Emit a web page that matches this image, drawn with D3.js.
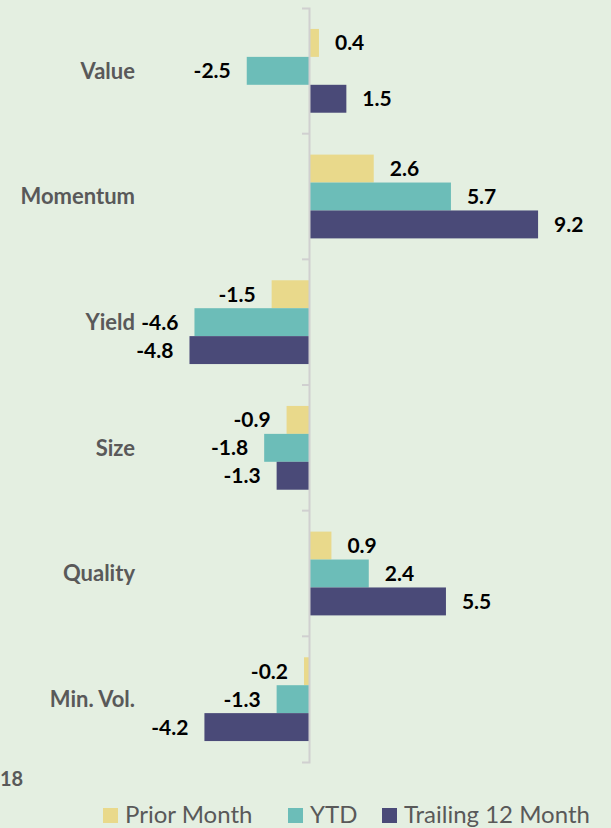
<!DOCTYPE html>
<html>
<meta charset="utf-8">
<style>
body { margin: 0; background: #e4efe1; }
svg { display: block; }
text { font-family: Lato, "Open Sans", sans-serif; }
</style>
<body>
<script src="https://d3js.org/d3.v7.min.js"></script>
<script>
var categories = ["Value", "Momentum", "Yield", "Size", "Quality", "Min. Vol."];
var series = ["Prior Month", "YTD", "Trailing 12 Month"];
var priorMonth = [0.4, 2.6, -1.5, -0.9, 0.9, -0.2];
var ytd = [-2.5, 5.7, -4.6, -1.8, 2.4, -1.3];
var trailing12 = [1.5, 9.2, -4.8, -1.3, 5.5, -4.2];
var colors = ["#e9d98b", "#6cbdb8", "#4a4a78"];

var width = 611, height = 828;

var svg = d3.select("body").append("svg")
    .attr("width", width)
    .attr("height", height);

var values = [priorMonth, ytd, trailing12];
var data = [];
categories.forEach(function(c, i) {
  series.forEach(function(s, j) {
    data.push({cat: c, series: s, value: values[j][i], idx: j});
  });
});

// x scale, zero sits on the axis line
var x = d3.scaleLinear().domain([-10, 10]).range([60, 558]);

// category bands
var y0 = d3.scaleBand().domain(categories).range([8, 762]);
var y1 = d3.scaleBand().domain(series)
    .range([0, y0.bandwidth()])
    .paddingOuter(0.75);

// bars
svg.selectAll(".bar")
    .data(data)
  .enter().append("rect")
    .attr("class", "bar")
    .attr("x", function(d) { return x(Math.min(0, d.value)); })
    .attr("y", function(d) { return y0(d.cat) + y1(d.series); })
    .attr("width", function(d) { return Math.abs(x(d.value) - x(0)); })
    .attr("height", y1.bandwidth())
    .style("fill", function(d) { return colors[d.idx]; });

// value labels
svg.selectAll(".lbl")
    .data(data)
  .enter().append("text")
    .attr("class", "lbl")
    .attr("x", function(d) { return d.value >= 0 ? x(d.value) + 16 : x(d.value) - 16; })
    .attr("y", function(d) { return y0(d.cat) + y1(d.series) + y1.bandwidth() / 2; })
    .attr("dy", "0.36em")
    .attr("text-anchor", function(d) { return d.value >= 0 ? "start" : "end"; })
    .style("font-size", "21px")
    .style("font-weight", "bold")
    .style("fill", "#000")
    .text(function(d) { return d.value.toFixed(1); });

// axis line with category ticks
var axis = svg.append("g")
    .attr("transform", "translate(" + x(0) + ",0)")
    .call(d3.axisLeft(y0).tickValues([]).tickSizeOuter(7));
axis.select(".domain").attr("stroke", "#d0d0d0").attr("stroke-width", 2);
var bounds = categories.slice(1).map(function(c) { return y0(c); });
axis.selectAll(".sep")
    .data(bounds)
  .enter().append("line")
    .attr("x1", -7).attr("x2", 0)
    .attr("y1", function(d) { return d; })
    .attr("y2", function(d) { return d; })
    .attr("stroke", "#d0d0d0")
    .attr("stroke-width", 2);

// category labels
svg.selectAll(".cat")
    .data(categories)
  .enter().append("text")
    .attr("class", "cat")
    .attr("x", 135)
    .attr("y", function(d) { return y0(d) + y0.bandwidth() / 2; })
    .attr("dy", "0.36em")
    .attr("text-anchor", "end")
    .style("font-size", "22px")
    .style("font-weight", "bold")
    .style("fill", "#595959")
    .text(function(d) { return d; });

// cropped fragment at bottom left
svg.append("text")
    .attr("x", 0)
    .attr("y", 786)
    .style("font-size", "20px")
    .style("font-weight", "bold")
    .style("fill", "#595959")
    .text("18");

// legend
var legendX = [103, 288, 382];
var legend = svg.selectAll(".legend")
    .data(series)
  .enter().append("g")
    .attr("class", "legend")
    .attr("transform", function(d, i) { return "translate(" + legendX[i] + ",823)"; });

legend.append("rect")
    .attr("x", 0)
    .attr("y", -15)
    .attr("width", 15)
    .attr("height", 15)
    .style("fill", function(d, i) { return colors[i]; });

legend.append("text")
    .attr("x", 22)
    .attr("y", 0)
    .style("font-size", "24px")
    .style("fill", "#595959")
    .text(function(d) { return d; });
</script>
</body>
</html>
